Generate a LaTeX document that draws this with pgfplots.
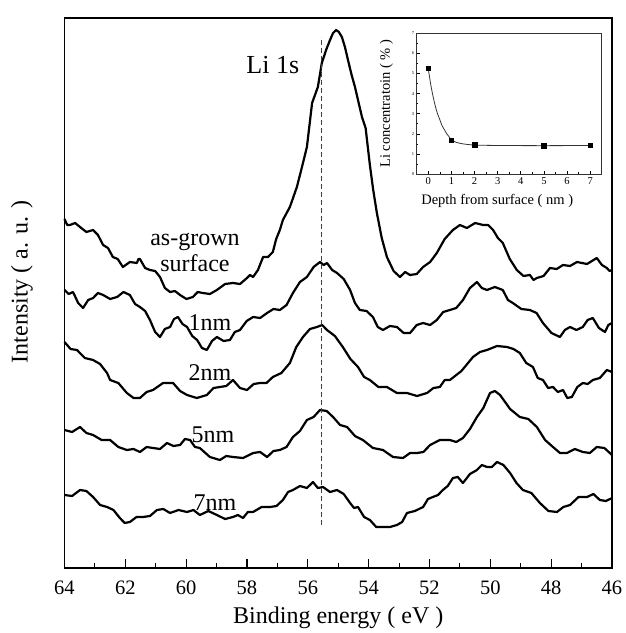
\documentclass[border=0pt]{standalone}
\usepackage{pgfplots}
\pgfplotsset{compat=1.18}
\usepackage{fontspec}
\setmainfont{Liberation Serif}

\begin{document}
\begin{tikzpicture}
\useasboundingbox (-64.5pt,-65pt) rectangle (560.5pt,568pt);
\begin{axis}[
  scale only axis, width=547.5pt, height=550pt,
  at={(0pt,0pt)}, anchor=south west,
  x dir=reverse, xmin=46, xmax=64, ymin=0, ymax=550,
  xtick={46,48,...,64}, minor xtick={47,49,...,63},
  ytick=\empty,
  tick align=inside, xtick pos=bottom,
  major tick length=9pt, minor tick length=5pt,
  axis line style={line width=1.3pt},
  every tick/.style={line width=1.1pt, black},
  /pgf/number format/assume math mode=true,
  tick label style={font=\fontsize{20.5}{20.5}\selectfont},
  xticklabel style={yshift=-9pt},
  xlabel={Binding energy ( eV )},
  ylabel={Intensity ( a. u. )},
  label style={font=\fontsize{24}{24}\selectfont},
  xlabel style={at={(axis description cs:0.5,-0.0909)}, anchor=center},
  ylabel style={at={(axis description cs:-0.0776,0.52)}, anchor=center, rotate=0},
  clip=false,
  every axis plot/.append style={line join=round},
]
% as-grown surface
\addplot[black, line width=2.2pt, sharp plot] coordinates {
(64.00,349)(63.91,343)(63.82,343)(63.65,345)(63.49,341)(63.28,336)(63.06,338)(62.90,333)
(62.73,323)(62.57,320)(62.41,311)(62.25,309)(62.08,301)(61.85,306)(61.62,305)(61.57,309)
(61.52,309)(61.35,300)(61.19,298)(61.02,297)(60.86,291)(60.70,280)(60.53,276)(60.37,277)
(60.20,273)(59.99,269)(59.78,271)(59.62,276)(59.45,275)(59.22,274)(58.99,278)(58.72,284)
(58.46,285)(58.23,284)(58.00,290)(57.90,293)(57.80,291)(57.64,298)(57.47,311)(57.31,311)
(57.15,316)(57.04,329)(56.92,338)(56.82,348)(56.59,361)(56.36,381)(56.20,400)(56.03,421)
(55.86,465)(55.67,481)(55.54,505)(55.40,518)(55.27,528)(55.17,535)(55.07,538)(54.98,536)
(54.88,531)(54.78,521)(54.68,508)(54.56,493)(54.45,481)(54.22,451)(54.10,440)(53.96,403)
(53.85,378)(53.73,355)(53.57,330)(53.40,311)(53.18,297)(52.97,291)(52.80,296)(52.64,293)
(52.42,294)(52.21,301)(51.98,306)(51.76,315)(51.50,329)(51.23,338)(51.00,343)(50.77,340)
(50.50,345)(50.24,343)(50.07,343)(49.91,338)(49.75,330)(49.59,325)(49.36,309)(49.13,298)
(48.91,292)(48.70,293)(48.58,288)(48.47,290)(48.25,292)(48.04,300)(47.82,299)(47.61,303)
(47.38,302)(47.15,306)(46.82,304)(46.50,310)(46.33,303)(46.17,300)(46.08,297)(46.00,298)};
% 1nm
\addplot[black, line width=2.2pt, sharp plot] coordinates {
(64.00,278)(63.86,274)(63.72,276)(63.55,265)(63.39,260)(63.22,268)(63.06,270)(62.90,275)
(62.73,273)(62.50,269)(62.27,271)(62.06,276)(61.85,273)(61.68,264)(61.52,261)(61.35,257)
(61.19,248)(61.02,236)(60.86,231)(60.70,239)(60.53,241)(60.40,249)(60.27,251)(60.12,244)
(59.97,241)(59.80,232)(59.64,228)(59.48,220)(59.32,218)(59.15,227)(58.99,231)(58.77,227)
(58.56,228)(58.40,236)(58.23,238)(58.01,247)(57.80,251)(57.57,250)(57.34,255)(57.13,259)
(56.92,258)(56.70,263)(56.49,275)(56.26,286)(56.03,291)(55.81,301)(55.60,306)(55.48,303)
(55.37,305)(55.20,298)(55.04,295)(54.82,289)(54.61,278)(54.45,265)(54.29,258)(54.07,257)
(53.86,251)(53.70,241)(53.53,238)(53.30,242)(53.07,241)(52.85,235)(52.64,235)(52.42,243)
(52.21,245)(51.98,243)(51.76,248)(51.55,256)(51.33,258)(51.12,260)(50.90,268)(50.67,280)
(50.44,286)(50.28,280)(50.11,278)(49.85,281)(49.59,278)(49.42,268)(49.26,265)(48.98,259)
(48.70,258)(48.48,255)(48.27,245)(47.99,235)(47.71,231)(47.55,238)(47.38,241)(47.17,238)
(46.96,241)(46.80,248)(46.63,250)(46.43,240)(46.23,236)(46.12,243)(46.00,245)};
% 2nm
\addplot[black, line width=2.2pt, sharp plot] coordinates {
(64.00,226)(63.80,219)(63.59,218)(63.33,210)(63.06,208)(62.83,204)(62.60,195)(62.50,188)
(62.23,185)(61.95,175)(61.73,170)(61.52,170)(61.30,176)(61.09,178)(60.76,185)(60.43,185)
(60.20,177)(59.97,173)(59.65,170)(59.32,173)(59.10,180)(58.89,181)(58.68,182)(58.46,188)
(58.23,180)(58.00,178)(57.78,184)(57.57,185)(57.36,185)(57.15,191)(56.87,195)(56.59,205)
(56.38,221)(56.16,231)(55.93,239)(55.70,241)(55.53,243)(55.37,238)(55.11,232)(54.85,221)
(54.60,209)(54.35,201)(54.15,191)(53.96,188)(53.68,181)(53.40,181)(53.07,175)(52.74,175)
(52.41,172)(52.08,175)(51.87,180)(51.66,181)(51.50,188)(51.33,188)(50.95,197)(50.57,211)
(50.34,216)(50.11,218)(49.78,222)(49.45,221)(49.24,219)(49.03,215)(48.82,205)(48.60,201)
(48.44,190)(48.27,188)(48.10,180)(47.94,181)(47.78,176)(47.61,178)(47.47,170)(47.32,171)
(47.14,181)(46.96,185)(46.80,184)(46.63,188)(46.40,190)(46.17,198)(46.00,196)};
% 5nm
\addplot[black, line width=2.2pt, sharp plot] coordinates {
(64.00,138)(63.75,136)(63.49,141)(63.28,135)(63.06,133)(62.78,128)(62.50,128)(62.23,121)
(61.95,118)(61.73,119)(61.52,116)(61.30,121)(61.09,120)(60.86,119)(60.63,125)(60.42,122)
(60.20,123)(60.04,129)(59.87,128)(59.71,121)(59.55,120)(59.22,111)(58.89,108)(58.68,112)
(58.46,111)(58.13,110)(57.80,115)(57.57,116)(57.34,111)(57.13,117)(56.92,118)(56.70,121)
(56.49,131)(56.26,137)(56.03,148)(55.81,151)(55.60,158)(55.38,157)(55.17,151)(54.94,143)
(54.71,141)(54.45,132)(54.19,128)(53.86,120)(53.53,118)(53.20,111)(52.87,110)(52.64,115)
(52.41,115)(52.20,116)(51.98,123)(51.66,128)(51.33,128)(51.12,126)(50.90,130)(50.67,139)
(50.44,151)(50.23,160)(50.01,175)(49.85,177)(49.68,173)(49.35,159)(49.03,151)(48.75,149)
(48.47,141)(48.20,128)(47.94,121)(47.71,115)(47.48,115)(47.22,119)(46.96,116)(46.73,115)
(46.50,121)(46.25,120)(46.00,113)};
% 7nm
\addplot[black, line width=2.2pt, sharp plot] coordinates {
(64.00,73)(63.75,72)(63.49,78)(63.28,77)(63.06,71)(62.83,63)(62.60,61)(62.39,58)
(62.18,50)(62.02,45)(61.85,46)(61.63,51)(61.42,51)(61.19,52)(60.96,58)(60.75,59)
(60.53,55)(60.25,58)(59.97,56)(59.76,58)(59.55,53)(59.27,57)(58.99,53)(58.72,49)
(58.46,51)(58.30,53)(58.13,50)(57.97,56)(57.80,56)(57.52,61)(57.24,61)(57.03,62)
(56.82,68)(56.65,76)(56.49,78)(56.26,82)(56.03,80)(55.93,83)(55.83,86)(55.67,80)
(55.50,81)(55.27,76)(55.04,78)(54.82,74)(54.61,65)(54.48,60)(54.35,61)(54.15,51)
(53.96,48)(53.75,41)(53.53,41)(53.30,41)(53.07,43)(52.90,46)(52.74,55)(52.48,57)
(52.21,61)(52.05,69)(51.89,71)(51.72,73)(51.56,78)(51.40,82)(51.23,90)(51.07,91)
(50.90,85)(50.67,94)(50.44,98)(50.28,103)(50.11,101)(49.95,101)(49.78,106)(49.57,103)
(49.35,95)(49.14,85)(48.93,78)(48.65,75)(48.37,65)(48.09,57)(47.81,56)(47.60,61)
(47.38,63)(47.10,71)(46.82,71)(46.61,74)(46.40,68)(46.20,67)(46.00,70)};
% dashed reference line
\addplot[black!75, line width=1pt, dash pattern=on 5pt off 3pt] coordinates {(55.55,43)(55.55,531)};
\node[font=\fontsize{26}{26}\selectfont] at (axis cs:57.15,503) {Li 1s};
\node[font=\fontsize{24}{24}\selectfont, align=center] at (axis cs:59.71,316) {as-grown\\[2pt]surface};
\node[font=\fontsize{24}{24}\selectfont] at (axis cs:59.22,245) {1nm};
\node[font=\fontsize{24}{24}\selectfont] at (axis cs:59.22,195) {2nm};
\node[font=\fontsize{24}{24}\selectfont] at (axis cs:59.12,133) {5nm};
\node[font=\fontsize{24}{24}\selectfont] at (axis cs:59.05,65) {7nm};
\end{axis}

\begin{axis}[
  scale only axis, width=185pt, height=140.7pt,
  at={(352.2pt,394pt)}, anchor=south west,
  xmin=-0.5, xmax=7.5, ymin=0, ymax=7,
  xtick={0,...,7}, ytick={0,...,7},
  minor xtick={-0.5,0.5,...,7.5}, minor ytick={0.5,1.5,...,6.5},
  tick align=inside, xtick pos=bottom, ytick pos=left,
  major tick length=3pt, minor tick length=1.5pt,
  axis line style={line width=0.8pt, black!80},
  every tick/.style={line width=0.6pt, black},
  /pgf/number format/assume math mode=true,
  xticklabel style={font=\fontsize{10.5}{10.5}\selectfont},
  yticklabel style={font=\fontsize{4.5}{4.5}\selectfont, xshift=1pt},
  xlabel={Depth from surface ( nm )},
  ylabel={Li concentratoin ( \% )},
  xlabel style={font=\fontsize{14.5}{14.5}\selectfont, yshift=-3pt, xshift=-12pt},
  ylabel style={font=\fontsize{14.5}{14.5}\selectfont, yshift=12pt},
  axis background/.style={fill=white},
]
\addplot[black!80, line width=0.8pt, smooth, tension=0.5] coordinates {
(0,5.25)(0.1,4.5)(0.2,3.9)(0.3,3.4)(0.4,3.0)(0.5,2.7)(0.6,2.4)(0.7,2.2)
(0.8,2.0)(0.9,1.85)(1.0,1.7)(1.2,1.58)(1.5,1.5)(2,1.44)(3,1.42)(5,1.41)(7,1.42)};
\addplot[only marks, mark=square*, mark size=2.2pt, black] coordinates {
(0,5.25)(1,1.68)(2,1.45)(5,1.40)(7,1.42)};
\end{axis}
\end{tikzpicture}
\end{document}
